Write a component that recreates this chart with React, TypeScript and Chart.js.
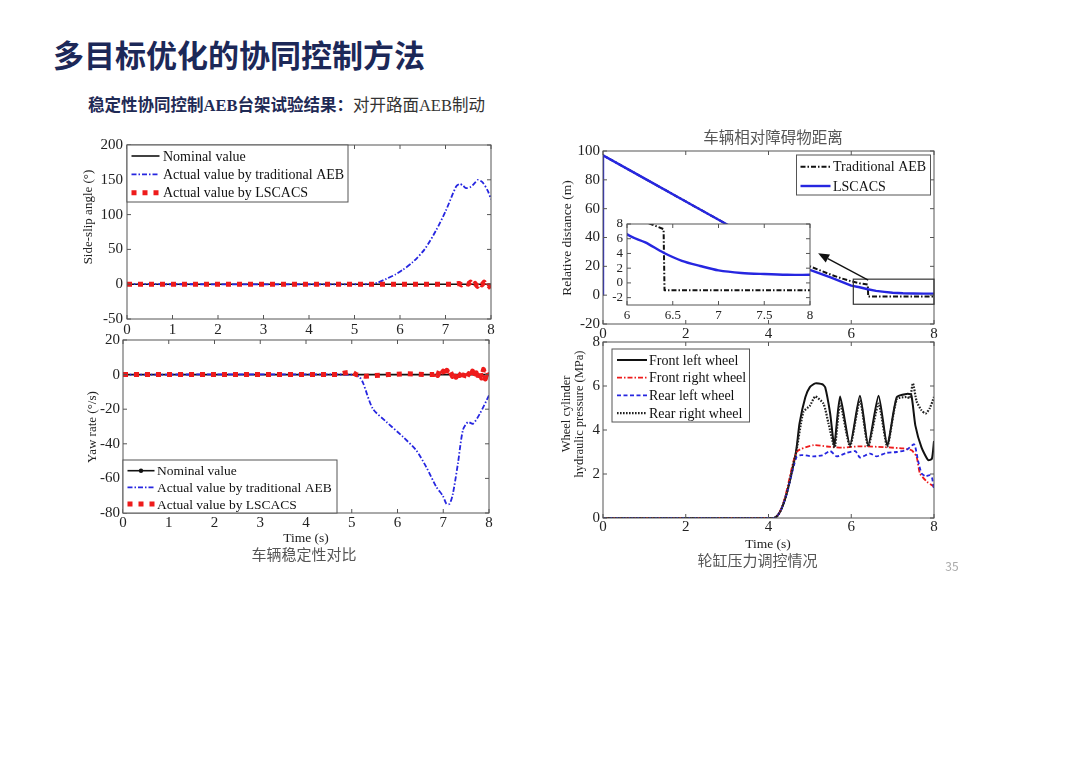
import React, { useEffect, useRef } from 'react';
import { Chart, registerables } from 'chart.js';

Chart.register(...registerables);

const SERIF = '"Liberation Serif", "Times New Roman", serif';
const CJK = '"Noto Sans CJK SC", "Noto Sans", sans-serif';
const BLUE = '#2626e0';
const RED = '#ee1b1b';
const DASHDOT = [5, 2, 1.5, 2];

// ---- side-slip angle (deg) vs time (s)
const nominalTime = [0, 8];
const nominalValue = [0, 0];
const slipAebTime = [0, 5.37, 5.5, 5.7, 5.9, 6.06, 6.28, 6.54, 6.79, 7.01, 7.23, 7.31, 7.38, 7.45, 7.56, 7.65, 7.71, 7.82, 7.93, 8];
const slipAebValue = [0, 0, 2, 7.7, 14, 20.6, 31.6, 50, 77, 106, 140, 144, 142, 138, 140, 146, 150, 146, 134, 122];
const slipLscacsTime = [0, 7.2, 7.3, 7.35, 7.4, 7.5, 7.55, 7.6, 7.65, 7.7, 7.75, 7.8, 7.85, 7.9, 7.95, 8];
const slipLscacsValue = [0, 0, 1, -1, 2, 0, 3, -2, 1, -3, 2, -1, 3, -4, -2, -6];

// ---- yaw rate (deg/s) vs time (s)
const yawAebTime = [0, 5.05, 5.17, 5.25, 5.46, 5.76, 6.12, 6.41, 6.63, 6.85, 6.99, 7.07, 7.14, 7.21, 7.32, 7.43, 7.54, 7.65, 7.8, 8];
const yawAebValue = [0, 0, -1.4, -5, -19.7, -27.4, -36, -43.8, -53.5, -65, -70, -74.7, -74.7, -69, -51.5, -32, -27.4, -28.4, -22.6, -12];
const yawLscacsTime = [0, 4.7, 4.85, 5.0, 5.1, 5.3, 5.5, 5.8, 6.2, 6.6, 6.8, 6.84, 6.88, 6.92, 6.96, 7.0, 7.04, 7.08, 7.12, 7.16, 7.2, 7.24, 7.28, 7.32, 7.36, 7.4, 7.44, 7.48, 7.52, 7.56, 7.6, 7.64, 7.68, 7.72, 7.76, 7.8, 7.84, 7.88, 7.92, 7.96, 8];
const yawLscacsValue = [0, 0, 1, 1.5, 0, -1, -0.5, 0, 0.5, 0, 0, 1.5, -0.5, 2.5, 0.5, 2, -1, 2.5, 0, 1.5, -1, 1, -1.5, 2, -0.5, 1, -2, 1.5, -1, 0.5, -2, 2, -1.5, 1, -2.5, 2.5, -2, 3, -2.5, 2, -1];

// ---- relative distance (m) vs time (s)
const distAebTime = [0, 0, 1, 2, 3, 4, 4.2, 4.5, 5, 5.5, 5.75, 6, 6.2, 6.4, 6.41, 7, 8];
const distAebValue = [0, 97, 81, 65, 49, 33, 29.8, 26, 20, 14.3, 11.8, 9.6, 8.3, 7.3, -1, -1, -1];
const distLscacsTime = [0, 0, 1, 2, 3, 4, 4.2, 4.5, 5, 5.5, 6, 6.2, 6.4, 6.6, 6.8, 7, 7.25, 7.5, 7.75, 8];
const distLscacsValue = [0, 97, 81, 65, 49, 33, 29.8, 25, 17.6, 12.3, 6.6, 5.5, 4.1, 3.0, 2.3, 1.7, 1.35, 1.2, 1.1, 1.1];
const zoomWindow = { t0: 6.05, t1: 8, y0: -6.3, y1: 11.1 };
const zoomArrow = { fromT: 6.41, fromY: 10.4, toT: 5.2, toY: 29 };

// ---- wheel cylinder pressure (MPa) vs time (s)
const flTime = [0, 4.14, 4.64, 4.75, 4.89, 5.0, 5.13, 5.3, 5.37, 5.49, 5.59, 5.73, 5.97, 6.21, 6.41, 6.66, 6.87, 7.1, 7.34, 7.45, 7.55, 7.7, 7.86, 7.95, 8];
const flValue = [0, 0, 2.75, 4.3, 5.49, 5.95, 6.12, 6.08, 5.94, 4.75, 3.31, 5.52, 3.31, 5.56, 3.31, 5.56, 3.31, 5.49, 5.64, 5.6, 4.2, 3.2, 2.63, 2.7, 3.5];
const frTime = [0, 4.14, 4.68, 5.09, 5.41, 5.8, 6.21, 6.8, 7.26, 7.46, 7.58, 7.66, 7.83, 7.98, 8];
const frValue = [0, 0, 3.0, 3.31, 3.25, 3.2, 3.26, 3.22, 3.16, 3.08, 2.78, 2.03, 1.65, 1.45, 1.4];
const rlTime = [0, 4.14, 4.68, 4.8, 5.09, 5.3, 5.49, 5.65, 5.89, 6.1, 6.21, 6.45, 6.61, 6.85, 7.1, 7.34, 7.52, 7.62, 7.7, 7.8, 7.9, 7.95, 8];
const rlValue = [0, 0, 2.78, 2.86, 2.8, 2.85, 3.04, 2.8, 2.96, 3.04, 2.75, 2.93, 2.8, 2.96, 3.0, 3.1, 3.35, 2.56, 2.03, 1.9, 1.95, 1.85, 1.3];
const rrTime = [0, 4.14, 4.64, 4.84, 5.0, 5.13, 5.33, 5.45, 5.6, 5.73, 5.97, 6.21, 6.41, 6.66, 6.87, 7.1, 7.34, 7.42, 7.49, 7.58, 7.7, 7.8, 7.9, 8];
const rrValue = [0, 0, 2.75, 4.81, 5.1, 5.52, 5.19, 4.3, 3.2, 5.2, 3.25, 5.35, 3.25, 5.2, 3.25, 5.4, 5.5, 5.45, 6.12, 5.3, 4.89, 4.75, 5.0, 5.5];

const pts = (xs: number[], ys: number[]) => xs.map((x, i) => ({ x, y: ys[i] }));

type Rect = { left: number; top: number; right: number; bottom: number };
const M = { l: 45, t: 12, r: 14, b: 30 };

const P1: Rect = { left: 127, top: 144, right: 491, bottom: 319 };
const P2: Rect = { left: 123, top: 340, right: 489, bottom: 513 };
const P3: Rect = { left: 603, top: 151, right: 934, bottom: 324 };
const P4: Rect = { left: 603, top: 342, right: 934, bottom: 518 };
const PI: Rect = { left: 627, top: 224, right: 810, bottom: 305 };

// MATLAB-like box with inward ticks on all four sides
const boxPlugin = {
  id: 'matlabBox',
  afterDatasetsDraw(chart: any) {
    const { ctx, chartArea: a, scales } = chart;
    const xs = scales.x, ys = scales.y;
    const tl = 4;
    ctx.save();
    ctx.strokeStyle = '#555';
    ctx.lineWidth = 1;
    ctx.setLineDash([]);
    ctx.strokeRect(a.left, a.top, a.right - a.left, a.bottom - a.top);
    ctx.beginPath();
    xs.ticks.forEach((t: any) => {
      const px = xs.getPixelForValue(t.value);
      ctx.moveTo(px, a.bottom); ctx.lineTo(px, a.bottom - tl);
      ctx.moveTo(px, a.top); ctx.lineTo(px, a.top + tl);
    });
    ys.ticks.forEach((t: any) => {
      const py = ys.getPixelForValue(t.value);
      ctx.moveTo(a.left, py); ctx.lineTo(a.left + tl, py);
      ctx.moveTo(a.right, py); ctx.lineTo(a.right - tl, py);
    });
    ctx.stroke();
    ctx.restore();
  },
};

const whiteArea = {
  id: 'whiteArea',
  beforeDatasetsDraw(chart: any) {
    const { ctx, chartArea: a } = chart;
    ctx.save();
    ctx.fillStyle = '#fff';
    ctx.fillRect(a.left, a.top, a.right - a.left, a.bottom - a.top);
    ctx.restore();
  },
};

// legend box placed inside the plot, like the MATLAB figure
const boxLegend = {
  id: 'boxLegend',
  afterDraw(chart: any, _args: any, o: any) {
    if (!o || o.w == null) return;
    const { ctx, chartArea: a } = chart;
    const x = a.left + o.x, y = a.top + o.y;
    ctx.save();
    ctx.fillStyle = '#fff';
    ctx.fillRect(x, y, o.w, o.h);
    ctx.strokeStyle = '#555';
    ctx.lineWidth = 1;
    ctx.strokeRect(x, y, o.w, o.h);
    ctx.font = `${o.size}px ${SERIF}`;
    ctx.textBaseline = 'middle';
    chart.data.datasets.forEach((ds: any, i: number) => {
      const cy = y + o.first + i * o.gap;
      ctx.beginPath();
      ctx.setLineDash(ds.borderDash || []);
      ctx.strokeStyle = ds.borderColor;
      ctx.lineWidth = ds.borderWidth;
      ctx.lineCap = 'butt';
      ctx.moveTo(x + o.s0, cy);
      ctx.lineTo(x + o.s1, cy);
      ctx.stroke();
      ctx.setLineDash([]);
      if (o.dots && o.dots.includes(i)) {
        ctx.fillStyle = ds.borderColor;
        ctx.beginPath();
        ctx.arc(x + (o.s0 + o.s1) / 2, cy, 2.2, 0, Math.PI * 2);
        ctx.fill();
      }
      ctx.fillStyle = '#111';
      ctx.fillText(ds.label, x + o.tx, cy + 1);
    });
    ctx.restore();
  },
};

const zoomMark = {
  id: 'zoomMark',
  afterDatasetsDraw(chart: any, _args: any, o: any) {
    if (!o || !o.win) return;
    const { ctx, scales } = chart;
    const sx = scales.x, sy = scales.y;
    const w = o.win, ar = o.arrow;
    ctx.save();
    ctx.setLineDash([]);
    ctx.strokeStyle = '#333';
    ctx.lineWidth = 1.2;
    const x0 = sx.getPixelForValue(w.t0), x1 = sx.getPixelForValue(w.t1);
    const y0 = sy.getPixelForValue(w.y0), y1 = sy.getPixelForValue(w.y1);
    ctx.strokeRect(x0, y1, x1 - x0, y0 - y1);
    const ax0 = sx.getPixelForValue(ar.fromT), ay0 = sy.getPixelForValue(ar.fromY);
    const ax1 = sx.getPixelForValue(ar.toT), ay1 = sy.getPixelForValue(ar.toY);
    const ang = Math.atan2(ay1 - ay0, ax1 - ax0);
    const hl = 11, hw = 4.5;
    const bx = ax1 - hl * Math.cos(ang), by = ay1 - hl * Math.sin(ang);
    ctx.strokeStyle = '#111';
    ctx.lineWidth = 1.3;
    ctx.beginPath();
    ctx.moveTo(ax0, ay0);
    ctx.lineTo(bx, by);
    ctx.stroke();
    ctx.fillStyle = '#111';
    ctx.beginPath();
    ctx.moveTo(ax1, ay1);
    ctx.lineTo(bx + hw * Math.sin(ang), by - hw * Math.cos(ang));
    ctx.lineTo(bx - hw * Math.sin(ang), by + hw * Math.cos(ang));
    ctx.closePath();
    ctx.fill();
    ctx.restore();
  },
};

function axis(min: number, max: number, step: number, size: number, pad: number, fit: (s: any) => void, extra: any = {}) {
  return {
    type: 'linear',
    min,
    max,
    ticks: {
      stepSize: step,
      autoSkip: false,
      maxRotation: 0,
      padding: pad,
      color: '#222',
      font: { family: SERIF, size },
      callback: (v: any) => String(v),
      ...extra,
    },
    grid: { display: false, drawTicks: false },
    border: { display: false },
    afterFit: fit,
  };
}

function makeConfig(datasets: any[], x: any, y: any, plugins: any = {}, extraPlugins: any[] = []) {
  return {
    type: 'line',
    data: { datasets },
    options: {
      animation: false,
      responsive: false,
      events: [],
      parsing: false,
      layout: { padding: { top: M.t, right: M.r, left: 0, bottom: 0 } },
      elements: { point: { radius: 0 }, line: { tension: 0 } },
      scales: { x, y },
      plugins: { legend: { display: false }, tooltip: { enabled: false }, ...plugins },
    },
    plugins: [boxPlugin, boxLegend, zoomMark, ...extraPlugins],
  };
}

const fitX = (s: any) => { s.height = M.b; };
const fitY = (s: any) => { s.width = M.l; };

const line = (label: string, data: any[], color: string, width: number, dash: number[], order: number, tension = 0) => ({
  label, data, borderColor: color, borderWidth: width, borderDash: dash, borderCapStyle: 'butt',
  borderJoinStyle: 'round', order, fill: false, tension,
});

const slipConfig = () => makeConfig(
  [
    line('Nominal value', pts(nominalTime, nominalValue), '#111', 1.6, [], 3),
    line('Actual value by traditional AEB', pts(slipAebTime, slipAebValue), BLUE, 1.8, DASHDOT, 2, 0.25),
    line('Actual value by LSCACS', pts(slipLscacsTime, slipLscacsValue), RED, 5, [5, 6], 1),
  ],
  axis(0, 8, 1, 15, 2, fitX),
  axis(-50, 200, 50, 15, 4, fitY),
  { boxLegend: { x: 0, y: 0, w: 221, h: 57, first: 11, gap: 18.4, s0: 4.5, s1: 32.5, tx: 36, size: 14 } },
);

const yawConfig = () => makeConfig(
  [
    line('Nominal value', pts(nominalTime, nominalValue), '#111', 1.6, [], 3),
    line('Actual value by traditional AEB', pts(yawAebTime, yawAebValue), BLUE, 1.8, DASHDOT, 2, 0.25),
    line('Actual value by LSCACS', pts(yawLscacsTime, yawLscacsValue), RED, 5, [5, 6], 1),
  ],
  axis(0, 8, 1, 15, 1, fitX),
  axis(-80, 20, 20, 15, 3, fitY),
  { boxLegend: { x: 0, y: 120, w: 214, h: 53, first: 10.7, gap: 16.7, s0: 4.5, s1: 31.5, tx: 34, size: 13.5, dots: [0] } },
);

const distConfig = () => makeConfig(
  [
    line('Traditional AEB', pts(distAebTime, distAebValue), '#111', 2, DASHDOT, 2),
    line('LSCACS', pts(distLscacsTime, distLscacsValue), BLUE, 2.4, [], 1),
  ],
  axis(0, 8, 2, 15, 1, fitX),
  axis(-20, 100, 20, 15, 3, fitY),
  {
    boxLegend: { x: 193.5, y: 4, w: 134, h: 40, first: 11.7, gap: 19.3, s0: 4, s1: 34, tx: 36.5, size: 14 },
    zoomMark: { win: zoomWindow, arrow: zoomArrow },
  },
);

const insetConfig = () => makeConfig(
  [
    line('Traditional AEB', pts(distAebTime, distAebValue), '#111', 2, DASHDOT, 2),
    line('LSCACS', pts(distLscacsTime, distLscacsValue), BLUE, 2.4, [], 1, 0.3),
  ],
  axis(6, 8, 0.5, 13, 3, fitX),
  axis(-3, 8, 2, 13, 4, fitY, { includeBounds: false }),
  {},
  [whiteArea],
);

const pressureConfig = () => makeConfig(
  [
    line('Front left wheel', pts(flTime, flValue), '#111', 2, [], 4, 0.2),
    line('Front right wheel', pts(frTime, frValue), RED, 1.8, DASHDOT, 3, 0.2),
    line('Rear left wheel', pts(rlTime, rlValue), BLUE, 1.8, [4, 2.5], 2, 0.2),
    line('Rear right wheel', pts(rrTime, rrValue), '#222', 2.2, [1.6, 1.4], 1, 0.2),
  ],
  axis(0, 8, 2, 15, 0, fitX),
  axis(0, 8, 2, 15, 3, fitY),
  { boxLegend: { x: 9, y: 7, w: 137.5, h: 73, first: 11, gap: 17.7, s0: 5, s1: 35, tx: 37, size: 14 } },
);

function PlotCanvas({ plot, make, z = 1 }: { plot: Rect; make: () => any; z?: number }) {
  const ref = useRef<HTMLCanvasElement | null>(null);
  useEffect(() => {
    if (!ref.current) return;
    const chart = new Chart(ref.current, make());
    return () => chart.destroy();
  }, [make]);
  const w = plot.right - plot.left + M.l + M.r;
  const h = plot.bottom - plot.top + M.t + M.b;
  return (
    <canvas
      ref={ref}
      width={w}
      height={h}
      style={{ position: 'absolute', left: plot.left - M.l, top: plot.top - M.t, width: w, height: h, zIndex: z }}
    />
  );
}

function Label({ x, y, size, children, color = '#222', font = SERIF, rotate = false }: any) {
  return (
    <div
      style={{
        position: 'absolute', left: x, top: y, fontFamily: font, fontSize: size, lineHeight: 1, color,
        whiteSpace: 'nowrap', transform: `translate(-50%, -50%)${rotate ? ' rotate(-90deg)' : ''}`, zIndex: 5,
      }}
    >
      {children}
    </div>
  );
}

export default function App() {
  return (
    <div style={{ position: 'fixed', left: 0, top: 0, width: 1080, height: 764, background: '#fff', overflow: 'hidden' }}>
      <div style={{ position: 'absolute', left: 53, top: 53, transform: 'translateY(-50%)', fontFamily: CJK, fontWeight: 700, fontSize: 31, lineHeight: 1, color: '#1c2858', whiteSpace: 'nowrap' }}>
        多目标优化的协同控制方法
      </div>
      <div style={{ position: 'absolute', left: 88, top: 105.5, transform: 'translateY(-50%)', fontFamily: `"Liberation Serif", ${CJK}`, fontSize: 16.5, lineHeight: 1, color: '#1f2a55', whiteSpace: 'nowrap' }}>
        <span style={{ fontWeight: 700 }}>稳定性协同控制AEB台架试验结果：</span>
        <span style={{ color: '#333' }}>对开路面AEB制动</span>
      </div>

      <PlotCanvas plot={P1} make={slipConfig} />
      <PlotCanvas plot={P2} make={yawConfig} />
      <PlotCanvas plot={P3} make={distConfig} />
      <PlotCanvas plot={PI} make={insetConfig} z={2} />
      <PlotCanvas plot={P4} make={pressureConfig} />

      <Label x={87} y={217} size={13} rotate>Side-slip angle (°)</Label>
      <Label x={90.5} y={427} size={13} rotate>Yaw rate (°/s)</Label>
      <Label x={306} y={538} size={13.5}>Time (s)</Label>
      <Label x={304} y={553} size={15} font={CJK} color="#555">车辆稳定性对比</Label>

      <Label x={773} y={137} size={15.5} font={CJK} color="#555">车辆相对障碍物距离</Label>
      <Label x={567} y={237.5} size={13.5} rotate>Relative distance (m)</Label>

      <Label x={566} y={414} size={12.5} rotate>Wheel cylinder</Label>
      <Label x={578.5} y={414} size={12.5} rotate>hydraulic pressure (MPa)</Label>
      <Label x={768} y={544} size={13.5}>Time (s)</Label>
      <Label x={757.5} y={559} size={15} font={CJK} color="#555">轮缸压力调控情况</Label>

      <Label x={952} y={566} size={12} font={CJK} color="#aaa">35</Label>
    </div>
  );
}
